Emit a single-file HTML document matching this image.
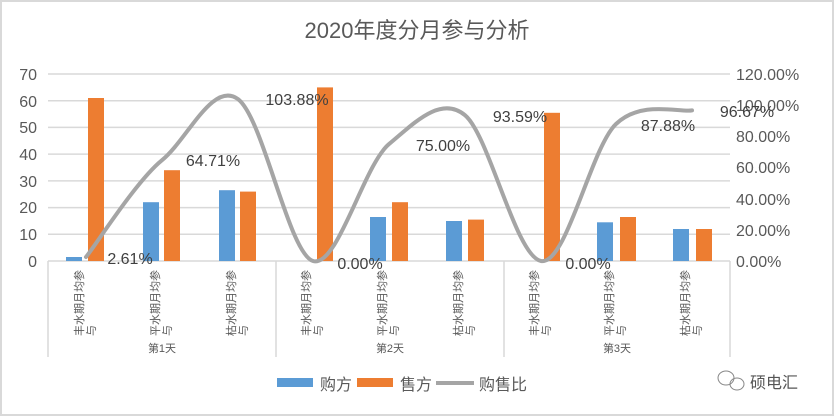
<!DOCTYPE html>
<html><head><meta charset="utf-8"><style>
html,body{margin:0;padding:0;background:#fff}
svg{display:block}
text{font-family:"Liberation Sans","Noto Sans CJK SC",sans-serif}
</style></head><body>
<svg width="834" height="416" viewBox="0 0 834 416" xmlns="http://www.w3.org/2000/svg">
<rect x="1" y="1" width="832" height="414" fill="#fff" stroke="#d9d9d9" stroke-width="2"/>
<text x="417" y="38" font-size="22" fill="#595959" text-anchor="middle">2020年度分月参与分析</text>
<g stroke="#d9d9d9" stroke-width="1.5">
<line x1="48" y1="74" x2="730" y2="74"/><line x1="48" y1="100.7" x2="730" y2="100.7"/>
<line x1="48" y1="127.4" x2="730" y2="127.4"/><line x1="48" y1="154.1" x2="730" y2="154.1"/>
<line x1="48" y1="180.9" x2="730" y2="180.9"/><line x1="48" y1="207.6" x2="730" y2="207.6"/>
<line x1="48" y1="234.3" x2="730" y2="234.3"/><line x1="48" y1="261" x2="730" y2="261"/>
<line x1="48" y1="261" x2="48" y2="357"/><line x1="276" y1="261" x2="276" y2="357"/>
<line x1="504" y1="261" x2="504" y2="357"/><line x1="730" y1="261" x2="730" y2="357"/>
</g>
<g font-size="16" fill="#595959" text-anchor="end">
<text x="37" y="80">70</text><text x="37" y="107">60</text><text x="37" y="133">50</text>
<text x="37" y="160">40</text><text x="37" y="187">30</text><text x="37" y="213">20</text>
<text x="37" y="240">10</text><text x="37" y="267">0</text>
</g>
<g font-size="16" fill="#595959">
<text x="736" y="80">120.00%</text><text x="736" y="111">100.00%</text><text x="736" y="142">80.00%</text>
<text x="736" y="173">60.00%</text><text x="736" y="205">40.00%</text><text x="736" y="236">20.00%</text>
<text x="736" y="267">0.00%</text>
</g>
<g fill="#5b9bd5">
<rect x="66" y="257" width="16" height="4"/>
<rect x="143" y="202.2" width="16" height="58.8"/>
<rect x="219" y="190.2" width="16" height="70.8"/>
<rect x="370" y="217" width="16" height="44"/>
<rect x="446" y="221" width="16" height="40"/>
<rect x="597" y="222.3" width="16" height="38.7"/>
<rect x="673" y="229" width="16" height="32"/>
</g>
<g fill="#ed7d31">
<rect x="88" y="98" width="16" height="163"/>
<rect x="164" y="170.2" width="16" height="90.8"/>
<rect x="240" y="191.6" width="16" height="69.4"/>
<rect x="317" y="87.4" width="16" height="173.6"/>
<rect x="392" y="202.2" width="16" height="58.8"/>
<rect x="468" y="219.6" width="16" height="41.4"/>
<rect x="544" y="112.8" width="16" height="148.2"/>
<rect x="620" y="217" width="16" height="44"/>
<rect x="696" y="229" width="16" height="32"/>
</g>
<path d="M86,257 C98.7,240.9 136.7,180.7 162,160.2 C187.3,139.7 212.7,80.3 238,99.1 C263.3,117.9 288.7,253.5 313,261 C337.3,268.5 363.7,165.1 389,144.1 C414.3,123.1 440.7,95.0 465,115.2 C489.3,135.4 515.7,256.2 541,261 C566.3,265.8 590.7,148.2 616,124 C641.3,99.8 679.3,112.7 692,110.4" fill="none" stroke="#a5a5a5" stroke-width="4" stroke-linecap="round"/>
<g font-size="16" fill="#404040" text-anchor="middle">
<text x="130" y="264">2.61%</text><text x="213" y="166">64.71%</text><text x="297" y="105">103.88%</text>
<text x="360" y="269">0.00%</text><text x="443" y="151">75.00%</text><text x="520" y="122">93.59%</text>
<text x="588" y="269">0.00%</text><text x="668" y="131">87.88%</text><text x="747" y="117">96.67%</text>
</g>
<g font-size="11" fill="#595959">
<g transform="translate(83,336) rotate(-90)"><text>丰水期月均参</text><text y="12">与</text></g>
<g transform="translate(159,336) rotate(-90)"><text>平水期月均参</text><text y="12">与</text></g>
<g transform="translate(235,336) rotate(-90)"><text>枯水期月均参</text><text y="12">与</text></g>
<g transform="translate(310,336) rotate(-90)"><text>丰水期月均参</text><text y="12">与</text></g>
<g transform="translate(386,336) rotate(-90)"><text>平水期月均参</text><text y="12">与</text></g>
<g transform="translate(462,336) rotate(-90)"><text>枯水期月均参</text><text y="12">与</text></g>
<g transform="translate(538,336) rotate(-90)"><text>丰水期月均参</text><text y="12">与</text></g>
<g transform="translate(613,336) rotate(-90)"><text>平水期月均参</text><text y="12">与</text></g>
<g transform="translate(689,336) rotate(-90)"><text>枯水期月均参</text><text y="12">与</text></g>
</g>
<g font-size="11" fill="#595959" text-anchor="middle">
<text x="162" y="352">第1天</text><text x="390" y="352">第2天</text><text x="617" y="352">第3天</text>
</g>
<rect x="277" y="378" width="36" height="9" fill="#5b9bd5"/>
<text x="320" y="390" font-size="16" fill="#595959">购方</text>
<rect x="357" y="378" width="36" height="9" fill="#ed7d31"/>
<text x="400" y="390" font-size="16" fill="#595959">售方</text>
<line x1="436" y1="383" x2="474" y2="383" stroke="#a5a5a5" stroke-width="4"/>
<text x="479" y="390" font-size="16" fill="#595959">购售比</text>
<g fill="none" stroke="#888" stroke-width="1">
<ellipse cx="726" cy="378" rx="8" ry="7"/><ellipse cx="737" cy="384" rx="7" ry="6"/>
</g>
<text x="750" y="388" font-size="16" fill="#555">硕电汇</text>
</svg>
</body></html>
